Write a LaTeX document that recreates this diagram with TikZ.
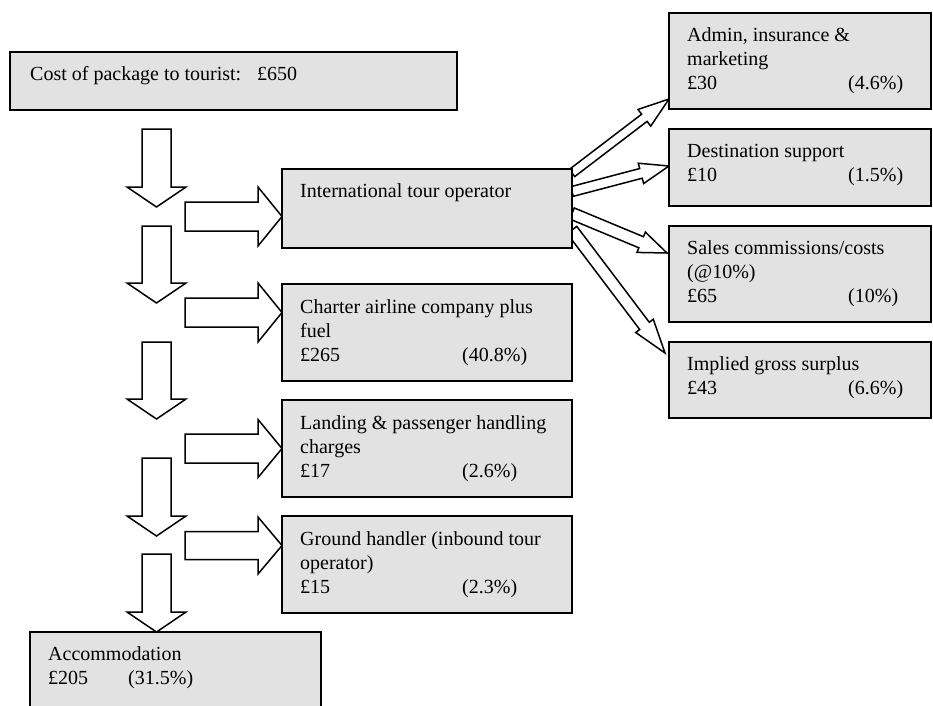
\documentclass[tikz,border=0pt]{standalone}
\usepackage{fontspec}
\setmainfont{Liberation Serif}
\usetikzlibrary{calc}
\pgfdeclarelayer{bg}
\pgfsetlayers{bg,main}
\definecolor{boxgray}{RGB}{226,226,226}
\tikzset{
  box/.style={draw=black, line width=1.8pt, fill=boxgray, rectangle, inner sep=0pt, outer sep=0pt, anchor=north west},
  txt/.style={anchor=base west, inner sep=0pt, font=\fontsize{20}{24}\selectfont},
  blockarr/.style={draw=black, line width=1.5pt, fill=white, line join=miter},
}
% #1 tail centre, #2 tip, #3 shaft half width, #4 head half width, #5 head length
\newcommand{\blockarrow}[5]{%
  \coordinate (bah) at ($(#2)!#5!(#1)$);
  \draw[blockarr] ($(#1)!#3!90:(#2)$) -- ($(bah)!#3!90:(#2)$) -- ($(bah)!#4!90:(#2)$)
    -- (#2) -- ($(bah)!#4!-90:(#2)$) -- ($(bah)!#3!-90:(#2)$) -- ($(#1)!#3!-90:(#2)$) -- cycle;
}
\begin{document}
\begin{tikzpicture}[x=1pt,y=-1pt]
\useasboundingbox (0,0) rectangle (933,705);
\clip (0,0) rectangle (933,705);

% boxes
\node[box, minimum width=447pt, minimum height=58pt] (top) at (10,52) {};
\node[box, minimum width=290pt, minimum height=79pt] (ito) at (282,169) {};
\node[box, minimum width=290pt, minimum height=97pt] (charter) at (282,284) {};
\node[box, minimum width=290pt, minimum height=97pt] (landing) at (282,400) {};
\node[box, minimum width=290pt, minimum height=97pt] (ground) at (282,516) {};
\node[box, minimum width=291pt, minimum height=90pt] (accom) at (30,632) {};
\node[box, minimum width=262pt, minimum height=96pt] (admin) at (669,13) {};
\node[box, minimum width=262pt, minimum height=77pt] (dest) at (669,129) {};
\node[box, minimum width=262pt, minimum height=96pt] (sales) at (669,226) {};
\node[box, minimum width=262pt, minimum height=76pt] (surplus) at (669,342) {};

% texts
\node[txt] (toptxt) at ($(top.north west)+(20,28)$) {\makebox[227pt][l]{Cost of package to tourist:}£650};
\node[txt] (itotxt) at ($(ito.north west)+(18,28)$) {International tour operator};
\node[txt] (chartertxt) at ($(charter.north west)+(18,29)$) {\begin{tabular}[t]{@{}l@{}}Charter airline company plus\\fuel\\\makebox[162pt][l]{£265}(40.8\%)\end{tabular}};
\node[txt] (landingtxt) at ($(landing.north west)+(18,29)$) {\begin{tabular}[t]{@{}l@{}}Landing \& passenger handling\\charges\\\makebox[162pt][l]{£17}(2.6\%)\end{tabular}};
\node[txt] (groundtxt) at ($(ground.north west)+(18,29)$) {\begin{tabular}[t]{@{}l@{}}Ground handler (inbound tour\\operator)\\\makebox[162pt][l]{£15}(2.3\%)\end{tabular}};
\node[txt] (accomtxt) at ($(accom.north west)+(18,28)$) {\begin{tabular}[t]{@{}l@{}}Accommodation\\\makebox[80pt][l]{£205}(31.5\%)\end{tabular}};
\node[txt] (admintxt) at ($(admin.north west)+(18,28)$) {\begin{tabular}[t]{@{}l@{}}Admin, insurance \&\\marketing\\\makebox[161pt][l]{£30}(4.6\%)\end{tabular}};
\node[txt] (desttxt) at ($(dest.north west)+(18,28)$) {\begin{tabular}[t]{@{}l@{}}Destination support\\\makebox[161pt][l]{£10}(1.5\%)\end{tabular}};
\node[txt] (salestxt) at ($(sales.north west)+(18,28)$) {\begin{tabular}[t]{@{}l@{}}Sales commissions/costs\\(@10\%)\\\makebox[161pt][l]{£65}(10\%)\end{tabular}};
\node[txt] (surplustxt) at ($(surplus.north west)+(18,28)$) {\begin{tabular}[t]{@{}l@{}}Implied gross surplus\\\makebox[161pt][l]{£43}(6.6\%)\end{tabular}};

% arrows
\begin{pgfonlayer}{bg}
  % down arrows
  \coordinate (d1s) at (156.5,129); \coordinate (d1t) at (156.5,207);
  \coordinate (d2s) at (156.5,226); \coordinate (d2t) at (156.5,303);
  \coordinate (d3s) at (156.5,342); \coordinate (d3t) at (156.5,419);
  \coordinate (d4s) at (156.5,458); \coordinate (d4t) at (156.5,536);
  \coordinate (d5s) at (156.5,554); \coordinate (d5t) at ($(accom.north west)+(126.5,0)$);
  \blockarrow{d1s}{d1t}{14.5pt}{29.5pt}{20pt}
  \blockarrow{d2s}{d2t}{14.5pt}{29.5pt}{20pt}
  \blockarrow{d3s}{d3t}{14.5pt}{29.5pt}{20pt}
  \blockarrow{d4s}{d4t}{14.5pt}{29.5pt}{20pt}
  \blockarrow{d5s}{d5t}{14.5pt}{29.5pt}{20pt}
  % right arrows
  \coordinate (r1t) at ($(ito.north west)+(0,47.5)$);     \coordinate (r1s) at ($(r1t)+(-97,0)$);
  \coordinate (r2t) at ($(charter.north west)+(0,28.5)$); \coordinate (r2s) at ($(r2t)+(-97,0)$);
  \coordinate (r3t) at ($(landing.north west)+(0,48.5)$); \coordinate (r3s) at ($(r3t)+(-97,0)$);
  \coordinate (r4t) at ($(ground.north west)+(0,29.5)$);  \coordinate (r4s) at ($(r4t)+(-97,0)$);
  \blockarrow{r1s}{r1t}{14.5pt}{29.5pt}{24pt}
  \blockarrow{r2s}{r2t}{14.5pt}{29.5pt}{24pt}
  \blockarrow{r3s}{r3t}{14.5pt}{29pt}{24pt}
  \blockarrow{r4s}{r4t}{14pt}{28.5pt}{24pt}
  % fan arrows
  \coordinate (f1s) at ($(ito.north east)+(0,4)$);    \coordinate (f1t) at ($(admin.south west)+(0,-10)$);
  \coordinate (f2s) at ($(ito.north east)+(0,22.5)$); \coordinate (f2t) at ($(dest.north west)+(0,37)$);
  \coordinate (f3s) at ($(ito.north east)+(0,44.5)$); \coordinate (f3t) at ($(sales.north west)+(-2,27)$);
  \coordinate (f4s) at ($(ito.north east)+(0,61)$);   \coordinate (f4t) at ($(surplus.north west)+(-4,11)$);
  \blockarrow{f1s}{f1t}{4.5pt}{10.5pt}{31pt}
  \blockarrow{f2s}{f2t}{5pt}{10.5pt}{29pt}
  \blockarrow{f3s}{f3t}{6pt}{11pt}{28pt}
  \blockarrow{f4s}{f4t}{6pt}{11pt}{34pt}
\end{pgfonlayer}
\end{tikzpicture}
\end{document}
